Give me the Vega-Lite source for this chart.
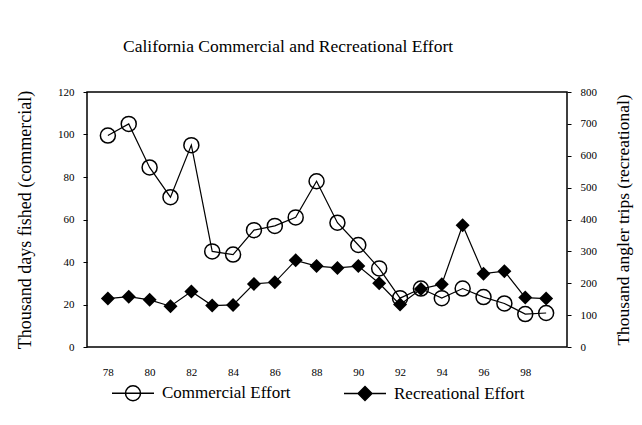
{
  "$schema": "https://vega.github.io/schema/vega-lite/v6.json",
  "width": 480,
  "height": 255,
  "autosize": {"type": "none"},
  "padding": {"left": 87, "top": 92, "right": 75, "bottom": 78},
  "background": "white",
  "title": {
    "text": "California Commercial and Recreational Effort",
    "font": "Liberation Serif",
    "fontSize": 17.5,
    "fontWeight": "normal",
    "color": "black",
    "anchor": "start",
    "frame": "group",
    "dx": 36,
    "offset": 31
  },
  "config": {
    "view": {"stroke": "black", "strokeWidth": 1.5},
    "axis": {
      "labelFont": "Liberation Serif",
      "titleFont": "Liberation Serif",
      "labelColor": "black",
      "titleColor": "black",
      "grid": false,
      "domain": false,
      "tickColor": "black"
    },
    "legend": {
      "title": null,
      "orient": "none",
      "direction": "horizontal",
      "legendX": 24,
      "legendY": 279,
      "padding": 0,
      "symbolSize": 1764,
      "symbolStrokeWidth": 1.5,
      "symbolOpacity": 1,
      "labelFont": "Liberation Serif",
      "labelFontSize": 17,
      "labelColor": "black",
      "labelOffset": 7,
      "columnPadding": 50
    }
  },
  "data": {
    "values": [
      {"year": 78, "series": "Commercial Effort", "value": 99.5},
      {"year": 79, "series": "Commercial Effort", "value": 105},
      {"year": 80, "series": "Commercial Effort", "value": 84.5},
      {"year": 81, "series": "Commercial Effort", "value": 70.5},
      {"year": 82, "series": "Commercial Effort", "value": 95},
      {"year": 83, "series": "Commercial Effort", "value": 45},
      {"year": 84, "series": "Commercial Effort", "value": 43.5},
      {"year": 85, "series": "Commercial Effort", "value": 55},
      {"year": 86, "series": "Commercial Effort", "value": 57},
      {"year": 87, "series": "Commercial Effort", "value": 61},
      {"year": 88, "series": "Commercial Effort", "value": 78},
      {"year": 89, "series": "Commercial Effort", "value": 58.5},
      {"year": 90, "series": "Commercial Effort", "value": 48},
      {"year": 91, "series": "Commercial Effort", "value": 37},
      {"year": 92, "series": "Commercial Effort", "value": 23},
      {"year": 93, "series": "Commercial Effort", "value": 27.5},
      {"year": 94, "series": "Commercial Effort", "value": 23},
      {"year": 95, "series": "Commercial Effort", "value": 27.5},
      {"year": 96, "series": "Commercial Effort", "value": 23.5},
      {"year": 97, "series": "Commercial Effort", "value": 20.5},
      {"year": 98, "series": "Commercial Effort", "value": 15.5},
      {"year": 99, "series": "Commercial Effort", "value": 16},
      {"year": 78, "series": "Recreational Effort", "value": 152},
      {"year": 79, "series": "Recreational Effort", "value": 158},
      {"year": 80, "series": "Recreational Effort", "value": 148},
      {"year": 81, "series": "Recreational Effort", "value": 128},
      {"year": 82, "series": "Recreational Effort", "value": 174},
      {"year": 83, "series": "Recreational Effort", "value": 130},
      {"year": 84, "series": "Recreational Effort", "value": 132},
      {"year": 85, "series": "Recreational Effort", "value": 198},
      {"year": 86, "series": "Recreational Effort", "value": 203},
      {"year": 87, "series": "Recreational Effort", "value": 272},
      {"year": 88, "series": "Recreational Effort", "value": 254},
      {"year": 89, "series": "Recreational Effort", "value": 248},
      {"year": 90, "series": "Recreational Effort", "value": 254},
      {"year": 91, "series": "Recreational Effort", "value": 200},
      {"year": 92, "series": "Recreational Effort", "value": 133},
      {"year": 93, "series": "Recreational Effort", "value": 182},
      {"year": 94, "series": "Recreational Effort", "value": 197},
      {"year": 95, "series": "Recreational Effort", "value": 382},
      {"year": 96, "series": "Recreational Effort", "value": 230},
      {"year": 97, "series": "Recreational Effort", "value": 238},
      {"year": 98, "series": "Recreational Effort", "value": 155},
      {"year": 99, "series": "Recreational Effort", "value": 152}
    ]
  },
  "encoding": {
    "x": {
      "field": "year",
      "type": "quantitative",
      "scale": {"domain": [77, 100], "nice": false, "zero": false},
      "axis": {
        "title": null,
        "values": [78, 80, 82, 84, 86, 88, 90, 92, 94, 96, 98],
        "format": "d",
        "ticks": false,
        "labelPadding": 19,
        "labelFontSize": 11
      }
    }
  },
  "layer": [
    {
      "transform": [{"filter": "datum.series === 'Commercial Effort'"}],
      "encoding": {
        "y": {
          "field": "value",
          "type": "quantitative",
          "scale": {"domain": [0, 120], "nice": false},
          "axis": {
            "orient": "left",
            "title": "Thousand days fished (commercial)",
            "titleFontSize": 18,
            "titleFontWeight": "normal",
            "titlePadding": 23,
            "values": [0, 20, 40, 60, 80, 100, 120],
            "tickSize": 4,
            "labelPadding": 9,
            "labelFontSize": 11,
            "labelDy": 3
          }
        }
      },
      "layer": [
        {"mark": {"type": "line", "color": "black", "strokeWidth": 1.2}},
        {"mark": {"type": "point", "shape": "circle", "filled": false, "color": "black", "size": 225, "strokeWidth": 1.5, "opacity": 1}},
        {
          "mark": {"type": "point", "opacity": 0, "strokeWidth": 1.5},
          "encoding": {
            "shape": {
              "field": "series",
              "type": "nominal",
              "scale": {
                "domain": ["Commercial Effort", "Recreational Effort"],
                "range": [
                  "M-1,0H1M-0.357,0A0.357,0.357 0 1,0 0.357,0A0.357,0.357 0 1,0 -0.357,0",
                  "M-1,0H1M0,-0.33L0.33,0L0,0.33L-0.33,0Z"
                ]
              }
            },
            "fill": {
              "field": "series",
              "type": "nominal",
              "scale": {
                "domain": ["Commercial Effort", "Recreational Effort"],
                "range": ["transparent", "black"]
              }
            },
            "stroke": {
              "field": "series",
              "type": "nominal",
              "scale": {
                "domain": ["Commercial Effort", "Recreational Effort"],
                "range": ["black", "black"]
              }
            }
          }
        }
      ]
    },
    {
      "transform": [{"filter": "datum.series === 'Recreational Effort'"}],
      "encoding": {
        "y": {
          "field": "value",
          "type": "quantitative",
          "scale": {"domain": [0, 800], "nice": false},
          "axis": {
            "orient": "right",
            "title": "Thousand angler trips (recreational)",
            "titleFontSize": 17.5,
            "titleFontWeight": "normal",
            "titleAngle": 270,
            "titlePadding": 36,
            "values": [0, 100, 200, 300, 400, 500, 600, 700, 800],
            "tickSize": 4,
            "labelPadding": 9,
            "labelFontSize": 11,
            "labelDy": 3
          }
        }
      },
      "layer": [
        {"mark": {"type": "line", "color": "black", "strokeWidth": 1.2}},
        {"mark": {"type": "point", "shape": "diamond", "filled": true, "color": "black", "size": 196, "opacity": 1}}
      ]
    }
  ],
  "resolve": {"scale": {"y": "independent"}}
}
